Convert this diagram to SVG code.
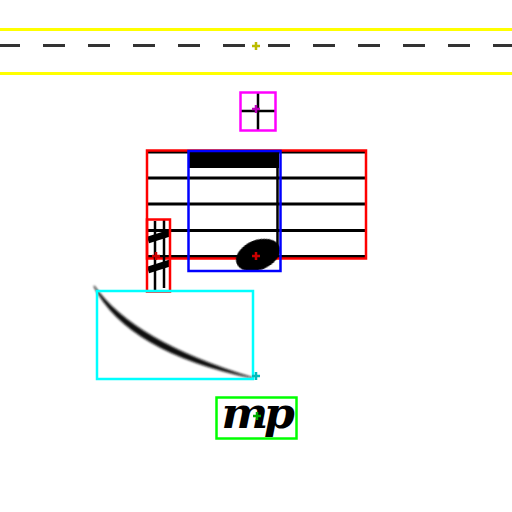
<svg xmlns="http://www.w3.org/2000/svg" width="512" height="512" viewBox="0 0 512 512">
<defs>
<style>
.box{fill:none;stroke-width:2.5}
.staff{stroke:#000;stroke-width:3}
.mk{stroke-width:2.5;stroke-linecap:butt}
</style>
<filter id="blur" x="-10%" y="-10%" width="120%" height="120%"><feGaussianBlur stdDeviation="0.9"/></filter>
<filter id="blur2" x="-10%" y="-10%" width="120%" height="120%"><feGaussianBlur stdDeviation="0.5"/></filter>
</defs>
<rect width="512" height="512" fill="#fff"/>

<g id="barline-region">
<line x1="0" y1="45.5" x2="512" y2="45.5" stroke="#333" stroke-width="3" stroke-dasharray="22 23" stroke-dashoffset="2"/>
<line x1="0" y1="29.5" x2="512" y2="29.5" stroke="#ffff00" stroke-width="3"/>
<line x1="0" y1="73.5" x2="512" y2="73.5" stroke="#ffff00" stroke-width="3"/>
<g stroke="#bbbb00" class="mk"><line x1="252" y1="46" x2="260" y2="46"/><line x1="256" y1="42" x2="256" y2="50"/></g>
</g>

<g id="cross">
<line x1="258" y1="93" x2="258" y2="130" stroke="#000" stroke-width="2.5"/>
<line x1="241" y1="111" x2="275" y2="111" stroke="#000" stroke-width="2.5"/>
<rect x="240.5" y="92.5" width="35" height="38" class="box" stroke="#ff00ff"/>
<g stroke="#bb00bb" class="mk"><line x1="252" y1="109" x2="260" y2="109"/><line x1="256" y1="105" x2="256" y2="113"/></g>
</g>

<g id="staff">
<line x1="147" y1="152" x2="366" y2="152" class="staff"/>
<line x1="147" y1="178" x2="366" y2="178" class="staff"/>
<line x1="147" y1="204" x2="366" y2="204" class="staff"/>
<line x1="147" y1="230.5" x2="366" y2="230.5" class="staff"/>
<line x1="147" y1="256.5" x2="366" y2="256.5" class="staff"/>
<rect x="147" y="150.5" width="219" height="108" class="box" stroke="#ff0000"/>
</g>

<g id="note">
<rect x="189" y="151" width="90" height="17" fill="#000"/>
<line x1="277.5" y1="151" x2="277.5" y2="256" stroke="#000" stroke-width="2.5"/>
<ellipse cx="258" cy="255" rx="23" ry="15" transform="rotate(-22 258 255)" fill="#000" filter="url(#blur2)"/>
<rect x="188.5" y="151" width="92" height="120" class="box" stroke="#0000ff"/>
<g stroke="#cc0000" class="mk"><line x1="252" y1="256" x2="260" y2="256"/><line x1="256" y1="252" x2="256" y2="260"/></g>
</g>

<g id="sharp">
<g stroke="#000">
<line x1="155" y1="221" x2="155" y2="290" stroke-width="2.5"/>
<line x1="164" y1="219" x2="164" y2="288" stroke-width="2.5"/>
<line x1="148" y1="240" x2="170" y2="233" stroke-width="7"/>
<line x1="148" y1="270" x2="170" y2="263" stroke-width="7"/>
</g>
<rect x="147" y="219.5" width="23" height="72" class="box" stroke="#ff0000"/>
<g stroke="#cc0000" class="mk"><line x1="152" y1="256" x2="160" y2="256"/><line x1="156" y1="252" x2="156" y2="260"/></g>
</g>

<g id="slur">
<path d="M94,286 Q128,352 253,378 Q133,342 94,286 Z" fill="#111" stroke="#111" stroke-width="1.2" filter="url(#blur)"/>
<rect x="97" y="291" width="156" height="88" class="box" stroke="#00ffff"/>
<g stroke="#00bbbb" class="mk"><line x1="252" y1="376" x2="260" y2="376"/><line x1="256" y1="372" x2="256" y2="380"/></g>
</g>

<g id="dynamic">
<text x="256" y="428" text-anchor="middle" font-family="DejaVu Serif, serif" font-weight="bold" font-style="italic" font-size="42" letter-spacing="-4" transform="translate(256 0) scale(1.05 1) translate(-256 0)">mp</text>
<rect x="216.5" y="397.5" width="80" height="41" class="box" stroke="#00ff00"/>
<g stroke="#00aa00" class="mk"><line x1="253" y1="416" x2="261" y2="416"/><line x1="257" y1="412" x2="257" y2="420"/></g>
</g>
</svg>
